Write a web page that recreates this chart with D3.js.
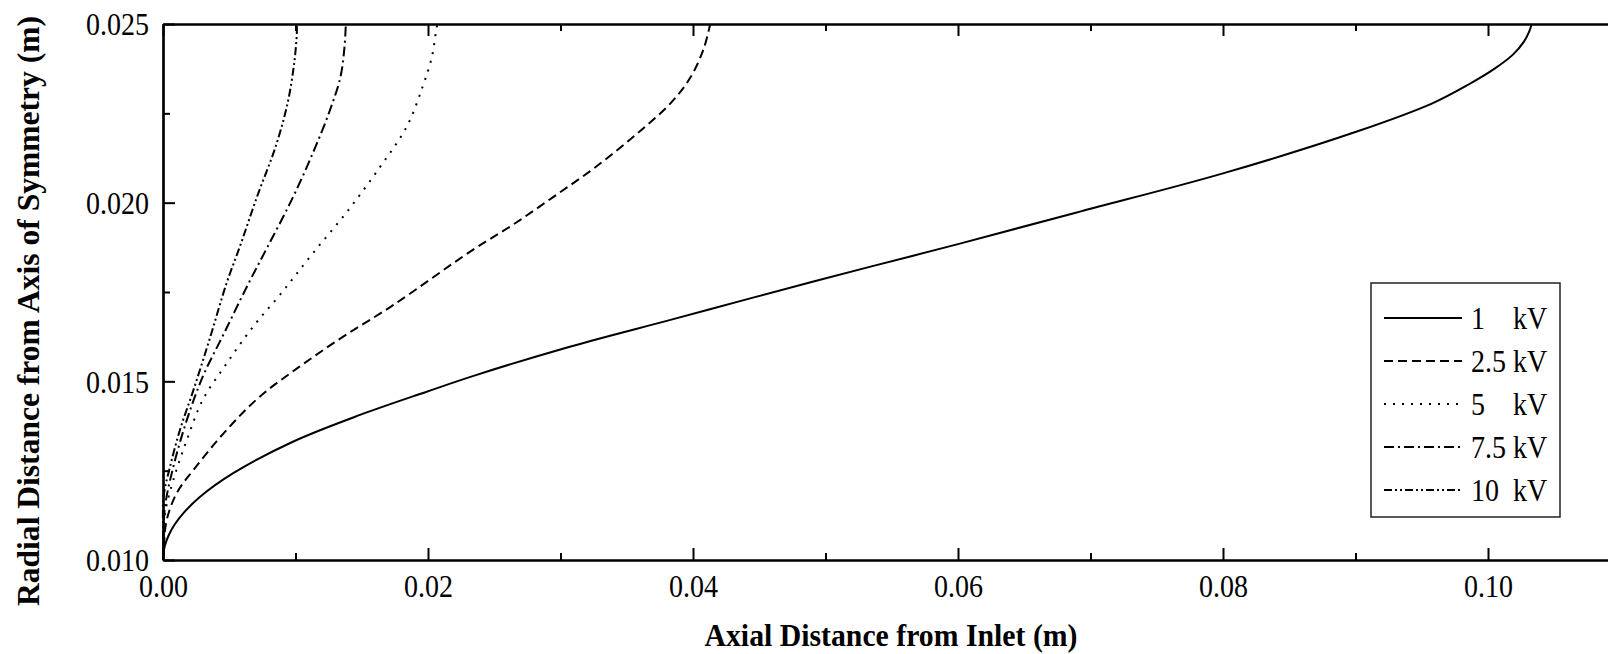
<!DOCTYPE html>
<html>
<head>
<meta charset="utf-8">
<script src="https://cdnjs.cloudflare.com/ajax/libs/d3/7.8.5/d3.min.js"></script>
<style>
  html, body { margin: 0; padding: 0; background: #fff; overflow: hidden; }
  svg { display: block; }
  text { font-family: "Liberation Serif", "Times New Roman", Times, serif; fill: #000; }
</style>
</head>
<body>
<svg id="chart" width="1608" height="654"></svg>
<script>
// ---- data: [axial distance (m), radial distance (m)] ----
const kv1 = [[0,0.0100],[0.00004,0.0102],[0.00014,0.0104],[0.00044,0.0107],[0.00089,0.0110],[0.00151,0.0113],[0.0028,0.01177],[0.0053,0.01243],[0.0098,0.01331],[0.01487,0.01406],[0.0199,0.01471],[0.0235,0.01516],[0.0307,0.01597],[0.0383,0.01672],[0.0446,0.01735],[0.0534,0.01821],[0.0600,0.01884],[0.0692,0.01975],[0.0800,0.02082],[0.0901,0.02199],[0.0958,0.02278],[0.0985,0.02330],[0.1005,0.02375],[0.1019,0.02415],[0.1027,0.02450],[0.1031,0.02478],[0.1033,0.0250]];
const kv25 = [[0,0.0100],[0.00008,0.0105],[0.00028,0.01112],[0.00103,0.01187],[0.0023,0.01252],[0.0048,0.01364],[0.0073,0.01457],[0.0103,0.01541],[0.0136,0.01625],[0.0174,0.01714],[0.0233,0.01866],[0.0264,0.01938],[0.0295,0.02017],[0.0327,0.02101],[0.0358,0.02194],[0.0383,0.02278],[0.0398,0.0235],[0.0408,0.0243],[0.0413,0.0250]];
const kv5 = [[0,0.0100],[0.00004,0.0105],[0.00015,0.0113],[0.00078,0.01224],[0.0018,0.01336],[0.0030,0.01448],[0.0048,0.0155],[0.0068,0.01653],[0.0090,0.0175],[0.0113,0.01858],[0.0139,0.01975],[0.0164,0.02101],[0.0184,0.02213],[0.0196,0.02325],[0.0203,0.02409],[0.0206,0.02479],[0.0207,0.0250]];
const kv75 = [[0,0.0100],[0.00003,0.0106],[0.00015,0.01149],[0.00078,0.01261],[0.0018,0.01392],[0.0030,0.01513],[0.0046,0.01634],[0.0064,0.0177],[0.0079,0.01877],[0.0097,0.02007],[0.0113,0.02138],[0.0126,0.02259],[0.0134,0.02353],[0.0137,0.02437],[0.0138,0.0250]];
const kv10 = [[0,0.0100],[0.00001,0.0108],[0.00004,0.01177],[0.00053,0.01261],[0.00128,0.01364],[0.0023,0.01476],[0.0035,0.01616],[0.0048,0.01775],[0.0058,0.01877],[0.0071,0.02017],[0.0085,0.02157],[0.0094,0.02278],[0.0099,0.0239],[0.0101,0.02474],[0.0101,0.0250]];

const seriesNumbers = ["1", "2.5", "5", "7.5", "10"];
const seriesData = [kv1, kv25, kv5, kv75, kv10];

const xMajorTicks = [0.00, 0.02, 0.04, 0.06, 0.08, 0.10];
const xMinorTicks = [0.01, 0.03, 0.05, 0.07, 0.09];
const yMajorTicks = [0.010, 0.015, 0.020, 0.025];
const yMinorTicks = [0.0125, 0.0175, 0.0225];
const xTitle = "Axial Distance from Inlet (m)";
const yTitle = "Radial Distance from Axis of Symmetry (m)";

// ---- layout ----
const svg = d3.select("#chart");
const plotLeft = 163, plotTop = 24, plotBottom = 560;
const x = d3.scaleLinear().domain([0, 0.11]).range([plotLeft, plotLeft + 0.11 * 13250]);
const y = d3.scaleLinear().domain([0.010, 0.025]).range([plotBottom, plotTop]);

const dashes = ["none", "9,5", "2,7", "10,4,2,4", "8,3,2,3,2,3"];
const labelSize = 30.5, squeeze = 28 / 30.5;

// tall, slightly condensed text like the original
function condense(sel, factor) {
  sel.each(function () {
    const len = this.getComputedTextLength();
    d3.select(this).attr("textLength", len * factor).attr("lengthAdjust", "spacingAndGlyphs");
  });
}

// curves
const line = d3.line().x(d => x(d[0])).y(d => y(d[1])).curve(d3.curveCatmullRom.alpha(0.5));
svg.append("g").selectAll("path").data(seriesData).join("path")
  .attr("d", line)
  .attr("fill", "none")
  .attr("stroke", "#000")
  .attr("stroke-width", 2)
  .attr("stroke-dasharray", (d, i) => dashes[i]);

function styleAxis(g) {
  g.select(".domain").attr("stroke", "#000").attr("stroke-width", 2.2);
  g.selectAll(".tick line").attr("stroke", "#000").attr("stroke-width", 2);
  g.selectAll("text").attr("font-size", labelSize).attr("font-family", '"Liberation Serif", "Times New Roman", serif');
  condense(g.selectAll("text"), squeeze);
}

// bottom axis
const gxMinor = svg.append("g").attr("transform", `translate(0,${plotBottom})`)
  .call(d3.axisBottom(x).tickValues(xMinorTicks).tickSize(-7).tickSizeOuter(0).tickFormat(""));
styleAxis(gxMinor);
const gx = svg.append("g").attr("transform", `translate(0,${plotBottom})`)
  .call(d3.axisBottom(x).tickValues(xMajorTicks).tickSize(-12).tickSizeOuter(0).tickPadding(15).tickFormat(d3.format(".2f")));
styleAxis(gx);

// top axis
const gtMinor = svg.append("g").attr("transform", `translate(0,${plotTop})`)
  .call(d3.axisTop(x).tickValues(xMinorTicks).tickSize(-7).tickSizeOuter(0).tickFormat(""));
styleAxis(gtMinor);
const gt = svg.append("g").attr("transform", `translate(0,${plotTop})`)
  .call(d3.axisTop(x).tickValues(xMajorTicks).tickSize(-12).tickSizeOuter(0).tickFormat(""));
styleAxis(gt);

// left axis
const gyMinor = svg.append("g").attr("transform", `translate(${plotLeft},0)`)
  .call(d3.axisLeft(y).tickValues(yMinorTicks).tickSize(-7).tickSizeOuter(0).tickFormat(""));
styleAxis(gyMinor);
const gy = svg.append("g").attr("transform", `translate(${plotLeft},0)`)
  .call(d3.axisLeft(y).tickValues(yMajorTicks).tickSize(-12).tickSizeOuter(0).tickPadding(14).tickFormat(d3.format(".3f")));
styleAxis(gy);
gy.selectAll("text").attr("dy", "0.36em");

// axis titles
svg.append("text")
  .attr("x", 891).attr("y", 646)
  .attr("text-anchor", "middle")
  .attr("font-size", 31.5).attr("font-weight", "bold")
  .attr("textLength", 373).attr("lengthAdjust", "spacingAndGlyphs")
  .text(xTitle);
svg.append("text")
  .attr("transform", "translate(39,311) rotate(-90)")
  .attr("text-anchor", "middle")
  .attr("font-size", 31.5).attr("font-weight", "bold")
  .attr("textLength", 590).attr("lengthAdjust", "spacingAndGlyphs")
  .text(yTitle);

// legend
const lg = svg.append("g");
lg.append("rect").attr("x", 1371).attr("y", 283).attr("width", 189).attr("height", 234)
  .attr("fill", "#fff").attr("stroke", "#222").attr("stroke-width", 1.5);
const rows = lg.selectAll("g.row").data(seriesNumbers).join("g").attr("class", "row")
  .attr("transform", (d, i) => `translate(0,${318 + i * 43})`);
rows.append("line").attr("x1", 1384).attr("x2", 1462).attr("y1", 0).attr("y2", 0)
  .attr("stroke", "#000").attr("stroke-width", 2)
  .attr("stroke-dasharray", (d, i) => dashes[i]);
rows.append("text").attr("x", 1471).attr("y", 10.5).attr("font-size", labelSize).text(d => d);
rows.append("text").attr("x", 1513).attr("y", 10.5).attr("font-size", labelSize).text("kV");
condense(rows.selectAll("text"), squeeze);
</script>
</body>
</html>
